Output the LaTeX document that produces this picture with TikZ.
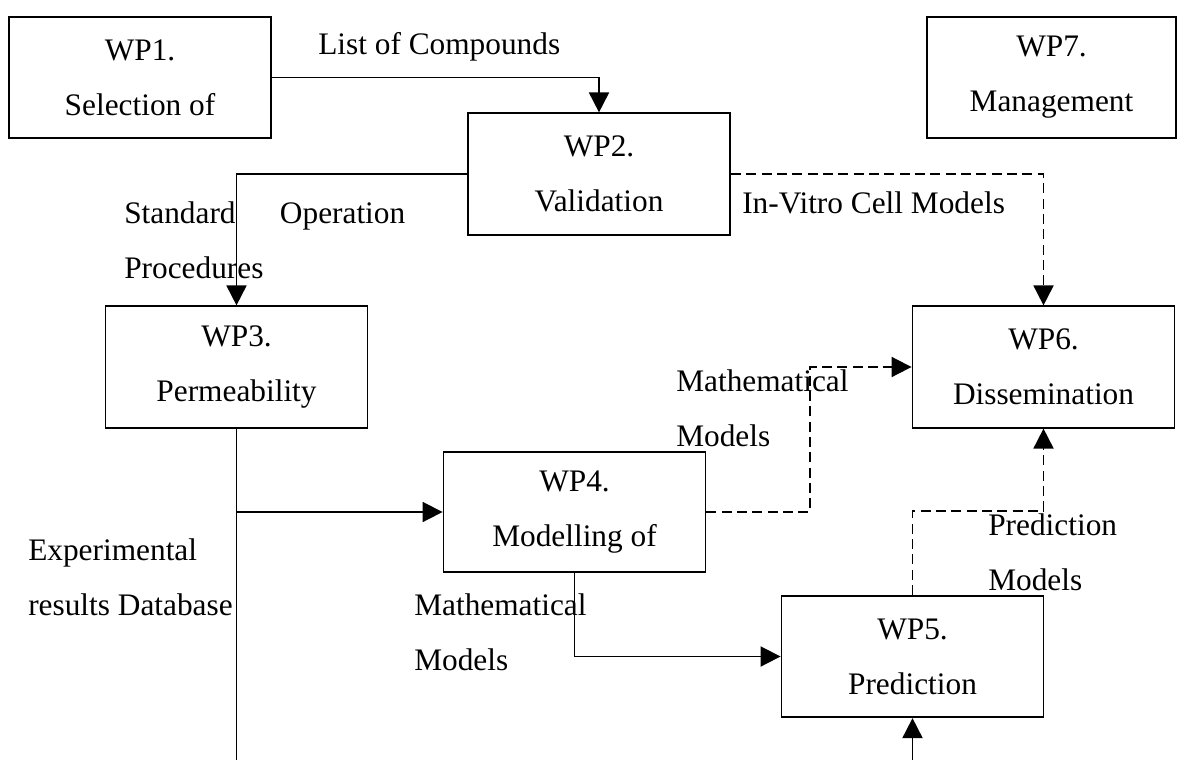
\documentclass[tikz,border=0pt]{standalone}
\usepackage{fontspec}
\setmainfont{Liberation Serif}
\usetikzlibrary{arrows.meta}

\tikzset{
  wpbox/.style={draw, line width=1.4pt, inner sep=0pt, align=center,
    minimum width=196.5pt, minimum height=91pt},
  lbl/.style={inner sep=0pt, anchor=west, align=left},
  link/.style={line width=1.4pt, -{Triangle[length=15pt,width=15pt]}},
  plain/.style={line width=1.4pt},
  dashlink/.style={line width=1.4pt, dash pattern=on 7.5pt off 4pt},
}

\begin{document}
\begin{tikzpicture}[x=0.75pt,y=0.75pt,yscale=-1,xscale=1,
  every node/.style={font=\fontsize{23.5}{41.25}\selectfont}]
\useasboundingbox (0,0) rectangle (1177,760);

%Shape: Rectangle
\node[wpbox] (wp1) at (140,77.5) {WP1.\\Selection of};
%Shape: Rectangle
\node[wpbox] (wp2) at (599,174) {WP2.\\Validation};
%Shape: Rectangle
\node[wpbox, minimum width=186.75pt] (wp7) at (1051.5,77.5) {WP7.\\Management};
%Shape: Rectangle
\node[wpbox] (wp3) at (236.5,367) {WP3.\\Permeability};
%Shape: Rectangle
\node[wpbox] (wp6) at (1043.5,367) {WP6.\\Dissemination};
%Shape: Rectangle
\node[wpbox, minimum height=90pt] (wp4) at (574.5,512) {WP4.\\Modelling of};
%Shape: Rectangle
\node[wpbox] (wp5) at (912.5,656.5) {WP5.\\Prediction};

%Free ends at the bottom edge
\coordinate (out3) at (236.5,760);
\coordinate (in5) at (912.5,760);

%Straight Lines
\draw[link] (wp1.east) -| (wp2.north);
\draw[link] (wp2.west) -| (wp3.north);
\draw[link, dashlink] (wp2.east) -| (wp6.north);
\draw[plain] (wp3.south) -- (out3);
\draw[link] (wp3.south |- wp4.west) -- (wp4.west);
\draw[link, dashlink] (wp4.east) -- ++(103.5,0) |- (wp6.west);
\draw[link] (wp4.south) |- (wp5.west);
\draw[link, dashlink] (wp5.north) -- ++(0,-84) -| (wp6.south);
\draw[link] (in5) -- (wp5.south);

%Text
\node[lbl] (lcomp) at (318,47) {List of Compounds};
\node[lbl, text width=210.75pt] (lsop) at (124,240.5) {Standard\hfill Operation\\Procedures};
\node[lbl] (lcell) at (742,203) {In-Vitro Cell Models};
\node[lbl] (lexp) at (28,577.5) {Experimental\\results Database};
\node[lbl] (lmath1) at (676,408.5) {Mathematical\\Models};
\node[lbl] (lmath2) at (414,632.5) {Mathematical\\Models};
\node[lbl] (lpred) at (988,552.5) {Prediction\\Models};

\end{tikzpicture}
\end{document}
